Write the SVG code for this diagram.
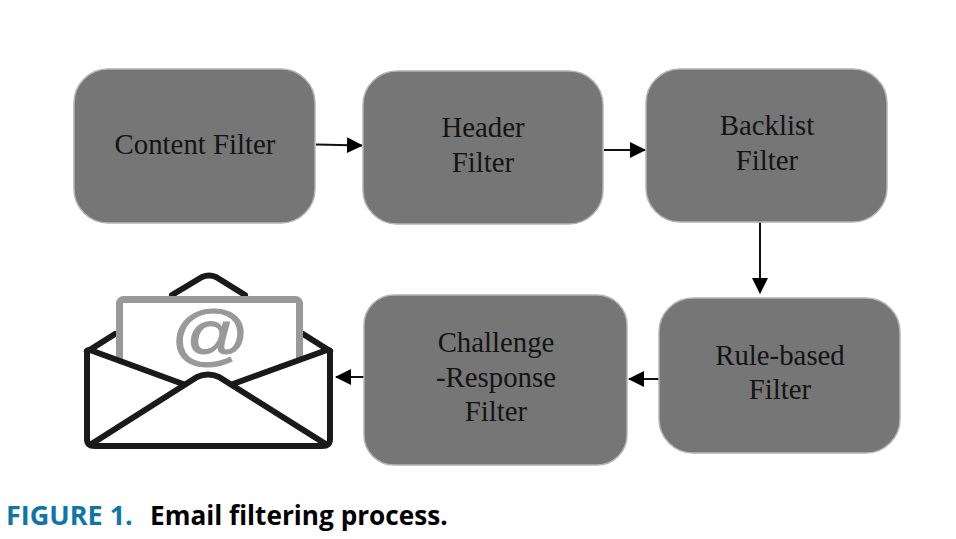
<svg xmlns="http://www.w3.org/2000/svg" width="956" height="539" viewBox="0 0 956 539">
<style>
.box{fill:#767676;stroke:#b4b4b4;stroke-width:1.5}
.t{font-family:"Liberation Serif",serif;font-size:28.800px;fill:#141414;text-anchor:middle}
.c{stroke:#111;stroke-width:2;fill:none;marker-end:url(#a)}
.e{fill:none;stroke:#1a1a1a;stroke-width:6;stroke-linejoin:round;stroke-linecap:round}
.cap{font-family:"Open Sans","Liberation Sans",sans-serif;font-weight:700}
</style>
<defs><marker id="a" markerUnits="userSpaceOnUse" markerWidth="16" markerHeight="16" refX="15" refY="8" orient="auto"><path d="M0 0L16 8L0 16Z" fill="#000"/></marker></defs>
<rect width="956" height="539" fill="#fff"/>
<g id="connectors">
<path class="c" d="M316 144.500L362 145.500"/>
<path class="c" d="M604 150H645"/>
<path class="c" d="M760 222V293"/>
<path class="c" d="M659 379H629"/>
<path class="c" d="M364 377H336"/>
</g>
<g id="content-filter"><rect class="box" x="74" y="69" width="241" height="154" rx="34"/><text class="t" x="195" y="154">Content Filter</text></g>
<g id="header-filter"><rect class="box" x="363" y="71" width="240" height="153" rx="34"/><text class="t" x="483" y="137">Header</text><text class="t" x="483" y="172">Filter</text></g>
<g id="backlist-filter"><rect class="box" x="646" y="69" width="241" height="153" rx="34"/><text class="t" x="767" y="135">Backlist</text><text class="t" x="767" y="170">Filter</text></g>
<g id="rule-based-filter"><rect class="box" x="659" y="298" width="241" height="155" rx="34"/><text class="t" x="780" y="365">Rule-based</text><text class="t" x="780" y="399">Filter</text></g>
<g id="challenge-response-filter"><rect class="box" x="364" y="295" width="263" height="170" rx="30"/><text class="t" x="496" y="352">Challenge</text><text class="t" x="496" y="387">-Response</text><text class="t" x="496" y="421">Filter</text></g>
<g id="email-icon">
<path class="e" d="M172 295L202 277Q209 274 216 277L245 295"/>
<path class="e" d="M115 334L88 351M303 334L330 351"/>
<rect x="119.500" y="299.500" width="180" height="90" fill="#fff" stroke="#999" stroke-width="7" rx="4"/>
<text transform="translate(209 357) scale(1.180 1)" font-family="Liberation Sans,sans-serif" font-size="66" font-style="italic" fill="#999" stroke="#999" stroke-width="1" text-anchor="middle">@</text>
<path d="M88 352L183 384L207 375L234 384L329 352V445H88Z" fill="#fff" stroke="none"/>
<path class="e" d="M87 352Q86 350 90 350L183 384M330 352Q331 350 327 350L233 384"/>
<path class="e" d="M87 352V439Q87 446 95 446H322Q330 446 330 439V352"/>
<path class="e" d="M93 443L197 377Q208 372 219 377L324 443"/>
</g>
<g id="caption"><text class="cap" x="6" y="525" font-size="27" fill="#0f75a8">FIGURE 1.</text><text class="cap" x="150" y="525" font-size="26.200" fill="#000">Email filtering process.</text></g>
</svg>
